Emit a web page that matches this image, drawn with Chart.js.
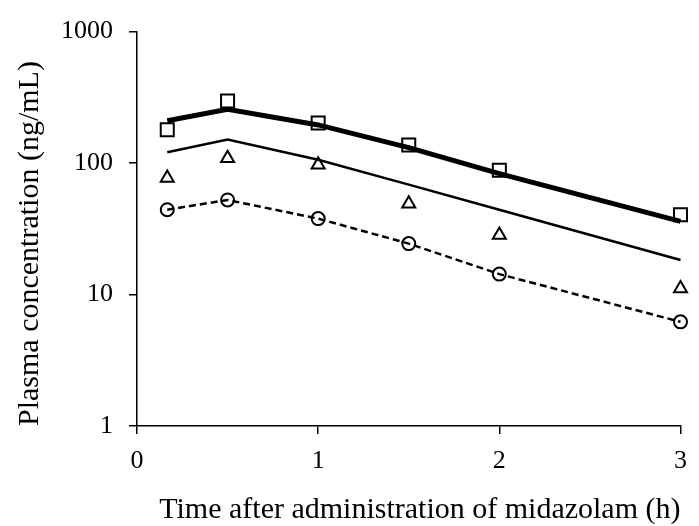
<!DOCTYPE html>
<html><head><meta charset="utf-8">
<script src="https://cdn.jsdelivr.net/npm/chart.js@4.4.1/dist/chart.umd.min.js"></script>
<style>html,body{margin:0;padding:0;background:#fff}</style>
</head><body>
<canvas id="c" width="699" height="526" style="display:block"></canvas>
<script>
const times = [0.167, 0.5, 1, 1.5, 2, 3];
const observedSquares = [179, 296, 202, 137, 88, 40.5];
const observedTriangles = [77, 109, 97, 49, 28.4, 11.1];
const observedCircles = [44.2, 52.4, 37.8, 24.4, 14.3, 6.2];
const predictedThick = [210, 257, 195, 131, 83, 36];
const predictedThin = [121, 151, 106, 68.6, 44.2, 18.3];
const xTicks = [0, 1, 2, 3];
const yTicks = [1, 10, 100, 1000];
const xTitle = 'Time after administration of midazolam (h)';
const yTitle = 'Plasma concentration (ng/mL)';

const pts = vals => times.map((t, i) => ({x: t, y: vals[i]}));
const FONT = "'Liberation Serif', 'Times New Roman', serif";

new Chart(document.getElementById('c'), {
  type: 'line',
  data: {
    datasets: [
      {data: pts(predictedThick), borderColor: '#000', borderWidth: 5, pointRadius: 0, fill: false, tension: 0, clip: false},
      {data: pts(predictedThin), borderColor: '#000', borderWidth: 2.5, pointRadius: 0, fill: false, tension: 0, clip: false},
      {data: pts(observedCircles), borderColor: '#000', borderWidth: 2.5, borderDash: [7, 4], pointStyle: 'circle', pointRadius: 6.5, pointBorderWidth: 2, pointBackgroundColor: 'rgba(0,0,0,0)', pointBorderColor: '#000', fill: false, tension: 0, clip: false},
      {data: pts(observedSquares), showLine: false, pointStyle: 'rect', pointRadius: 9.2, pointBorderWidth: 2, pointBackgroundColor: 'rgba(0,0,0,0)', pointBorderColor: '#000', clip: false},
      {data: pts(observedTriangles), showLine: false, pointStyle: 'triangle', pointRadius: 7.5, pointBorderWidth: 2, pointBackgroundColor: 'rgba(0,0,0,0)', pointBorderColor: '#000', clip: false}
    ]
  },
  options: {
    responsive: false,
    animation: false,
    devicePixelRatio: 1,
    layout: {padding: {top: 24, right: 17, left: 0, bottom: 0}},
    plugins: {legend: {display: false}, tooltip: {enabled: false}},
    scales: {
      x: {
        type: 'linear', min: 0, max: 3,
        afterBuildTicks: s => { s.ticks = xTicks.map(v => ({value: v})); },
        afterFit: s => { s.height = 100; },
        border: {display: true, color: '#000', width: 1.5},
        grid: {drawOnChartArea: false, drawTicks: true, tickLength: 8, color: '#000', lineWidth: 1.5},
        ticks: {color: '#000', font: {family: FONT, size: 26}, padding: 12, maxRotation: 0},
        title: {display: true, text: xTitle, color: '#000', align: 'end', font: {family: FONT, size: 30, lineHeight: 1}, padding: {top: 0, bottom: 1}}
      },
      y: {
        type: 'logarithmic', min: 1, max: 1000,
        afterBuildTicks: s => { s.ticks = yTicks.map(v => ({value: v})); },
        afterFit: s => { s.width = 137; },
        border: {display: true, color: '#000', width: 1.5},
        grid: {drawOnChartArea: false, drawTicks: true, tickLength: 8, color: '#000', lineWidth: 1.5},
        ticks: {color: '#000', font: {family: FONT, size: 26}, padding: 16, callback: v => String(v)},
        title: {display: true, text: yTitle, color: '#000', align: 'start', font: {family: FONT, size: 30, lineHeight: 1}, padding: {top: 15, bottom: 0}}
      }
    }
  }
});
</script>
</body></html>
